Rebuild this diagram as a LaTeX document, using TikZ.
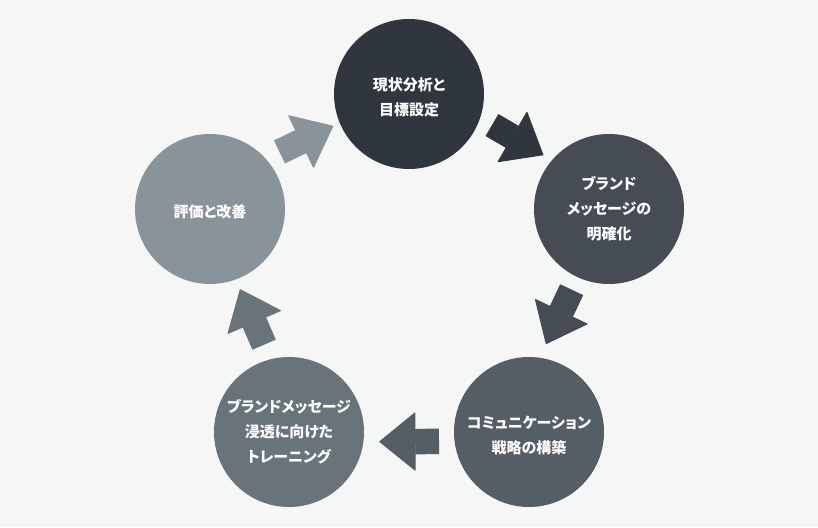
\documentclass[tikz,border=0pt]{standalone}
\usepackage{fontspec}
\usepackage{tikz}
\usepackage{xcolor}
\usetikzlibrary{arrows.meta,calc}
\setmainfont{Noto Sans CJK JP}[RawFeature=+palt]
\definecolor{bg}{HTML}{F5F6F6}
\definecolor{stageA}{HTML}{30363D}
\definecolor{stageB}{HTML}{454C53}
\definecolor{stageC}{HTML}{555D65}
\definecolor{stageD}{HTML}{69737A}
\definecolor{stageE}{HTML}{89939A}

\begin{document}
\begin{tikzpicture}[
  x=1pt, y=1pt,
  stage/.style={circle, minimum size=150pt, inner sep=0pt, align=center, text=white, font=\fontsize{15}{25}\selectfont\bfseries},
  flow/.style={line width=25.5pt, -{Triangle[width=59pt, length=36.5pt, line width=1pt, round]}}
]
\fill[bg] (0,0) rectangle (818,527);

\node[stage, fill=stageA] (analysis) at (409,433) {\\[-6pt]現状分析と\\目標設定};
\node[stage, fill=stageB] (message) at (609,318) {ブランド\\メッセージの\\明確化};
\node[stage, fill=stageC] (strategy) at (529,95) {\\[-6pt]コミュニケーション\\戦略の構築};
\node[stage, fill=stageD] (training) at (289,95) {ブランドメッセージ\\浸透に向けた\\トレーニング};
\node[stage, fill=stageE] (review) at (210,318) {\\[-6pt]評価と改善};

\draw[flow, stageA] ($(analysis)!88.6pt!9.4:(message)$) -- ($(message)!85pt!-9.5:(analysis)$);
\draw[flow, stageB] ($(message)!88.9pt!-5.1:(strategy)$) -- ($(strategy)!89.6pt!8.8:(message)$);
\draw[flow, stageC] ($(strategy)!90.5pt!6:(training)$) -- ($(training)!90.8pt!-6.1:(strategy)$);
\draw[flow, stageD] ($(training)!90.8pt!-3.6:(review)$) -- ($(review)!85.7pt!1:(training)$);
\draw[flow, stageE] ($(review)!89.9pt!9.4:(analysis)$) -- ($(analysis)!82.2pt!-7.1:(review)$);
\end{tikzpicture}
\end{document}
